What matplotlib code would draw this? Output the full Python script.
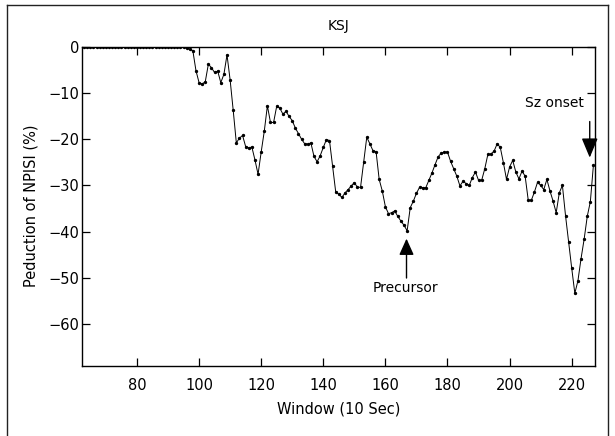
import numpy as np
import matplotlib
matplotlib.use("Agg")
import matplotlib.pyplot as plt
from matplotlib.lines import Line2D

# window index (10 s windows) and reduction of NPISI (%)
windows = np.arange(63, 228)

flat_part = [0.0] * (96 - 63)
reduction_part = [
    -0.3, -0.6, -0.9, -5.2, -7.8, -8.1, -7.6, -3.8, -4.6, -5.6,     # 96-105
    -5.3, -7.8, -6.0, -1.8, -7.2, -13.8, -20.8, -19.8, -19.2, -21.6,  # 106-115
    -21.9, -21.7, -24.5, -27.6, -22.8, -18.3, -12.8, -16.4, -16.4, -12.9,  # 116-125
    -13.3, -14.6, -14.0, -15.1, -16.0, -17.6, -18.8, -20.0, -21.0, -21.1,  # 126-135
    -20.8, -23.7, -24.9, -23.6, -21.8, -20.1, -20.3, -25.8, -31.4, -31.9,  # 136-145
    -32.6, -31.6, -30.9, -30.1, -29.4, -30.4, -30.4, -25.0, -19.6, -21.0,  # 146-155
    -22.5, -22.7, -28.7, -31.2, -34.6, -36.1, -35.9, -35.5, -36.7, -37.7,  # 156-165
    -38.6, -39.8, -34.8, -33.4, -31.7, -30.4, -30.5, -30.5, -28.9, -27.3,  # 166-175
    -25.5, -23.8, -23.0, -22.8, -22.8, -24.8, -26.4, -28.0, -30.1, -29.1,  # 176-185
    -29.6, -30.0, -28.3, -27.1, -28.9, -28.9, -26.4, -23.3, -23.2, -22.6,  # 186-195
    -21.0, -21.8, -25.1, -28.7, -26.0, -24.6, -27.1, -28.6, -26.9, -28.0,  # 196-205
    -33.2, -33.2, -31.4, -29.3, -30.0, -30.9, -28.7, -31.2, -33.4, -35.9,  # 206-215
    -31.6, -30.0, -36.5, -42.3, -47.9, -53.3, -50.6, -45.8, -41.6, -36.7,  # 216-225
    -33.5, -25.5,                                                      # 226-227
]
reduction = np.array(flat_part + reduction_part)

x_ticks = [80, 100, 120, 140, 160, 180, 200, 220]
y_ticks = [-60, -50, -40, -30, -20, -10, 0]

plt.rcParams['font.family'] = ['DejaVu Sans']

fig = plt.figure(figsize=(6.15, 4.36), dpi=100)
ax = fig.add_axes([0.1333, 0.1606, 0.8342, 0.7327])

ax.plot(windows, reduction, color='black', linewidth=0.7,
        marker='.', markersize=2.8)

ax.set_xlim(62.3, 227.5)
ax.set_ylim(-69, 0)
ax.set_xticks(x_ticks)
ax.set_yticks(y_ticks)
ax.tick_params(direction='in', length=6, width=0.9, top=True, right=True,
               labelsize=10.5)
ax.tick_params(axis='x', pad=9)
ax.tick_params(axis='y', pad=2)
for s in ax.spines.values():
    s.set_linewidth(1.0)

ax.set_title("KSJ", fontsize=10, pad=12)
ax.set_xlabel("Window (10 Sec)", fontsize=10.5, labelpad=6)
ax.set_ylabel("Peduction of NPISI (%)", fontsize=10.5, labelpad=7)

# precursor arrow
ax.annotate('', xy=(166.8, -41.5), xytext=(166.8, -50.0),
            arrowprops=dict(arrowstyle='-|>,head_width=0.45,head_length=1.0',
                            color='black', lw=1.0, mutation_scale=10,
                            shrinkA=0, shrinkB=0))
ax.text(166.6, -52.2, "Precursor", ha='center', va='center', fontsize=10)

# seizure onset arrow
ax.annotate('', xy=(225.8, -24.0), xytext=(225.8, -16.2),
            arrowprops=dict(arrowstyle='-|>,head_width=0.5,head_length=1.2',
                            color='black', lw=1.0, mutation_scale=10,
                            shrinkA=0, shrinkB=0))
ax.text(214.5, -12.2, "Sz onset", ha='center', va='center', fontsize=10)

# page frame around the figure
x0, x1 = 7 / 615, 608 / 615
y_top = 1 - 5 / 436
frame_kw = dict(color='#222222', linewidth=1.0, transform=fig.transFigure)
fig.add_artist(Line2D([x0, x1], [y_top, y_top], **frame_kw))
fig.add_artist(Line2D([x0, x0], [0, y_top], **frame_kw))
fig.add_artist(Line2D([x1, x1], [0, y_top], **frame_kw))

fig.savefig("out.png", dpi=100)
